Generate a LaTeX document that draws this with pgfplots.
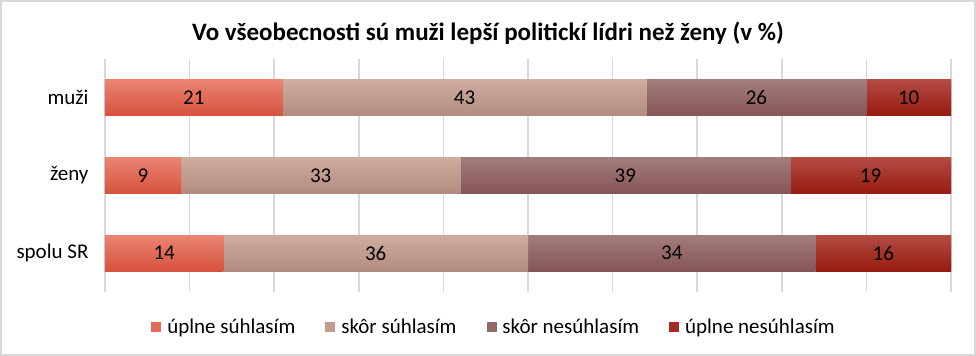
\documentclass[border=0pt]{standalone}
\usepackage{pgfplots}
\usepackage{pgfplotstable}
\pgfplotsset{compat=1.18}
\usepackage{fontspec}
\setmainfont{Carlito}
\definecolor{gridgray}{HTML}{D9D9D9}
\definecolor{aT}{HTML}{EA8473}
\definecolor{aM}{HTML}{E26A56}
\definecolor{aB}{HTML}{D6523D}
\definecolor{bT}{HTML}{CEAC9F}
\definecolor{bM}{HTML}{C19C8F}
\definecolor{bB}{HTML}{B28B7F}
\definecolor{cT}{HTML}{A27C7C}
\definecolor{cM}{HTML}{946868}
\definecolor{cB}{HTML}{865557}
\definecolor{dT}{HTML}{B24B42}
\definecolor{dM}{HTML}{A32D22}
\definecolor{dB}{HTML}{981B10}

\pgfplotstableread{
c v
0 21
1 9
2 14
}\seriesA
\pgfplotstableread{
c v
0 43
1 33
2 36
}\seriesB
\pgfplotstableread{
c v
0 26
1 39
2 34
}\seriesC
\pgfplotstableread{
c v
0 10
1 19
2 16
}\seriesD

\begin{document}
\begin{tikzpicture}
\path[use as bounding box] (-105bp,-64bp) rectangle (871bp,292bp);
\draw[color=gridgray, line width=2bp] (-104bp,-63bp) rectangle (870bp,291bp);
\begin{axis}[
  at={(0,0)}, anchor=south west,
  scale only axis, width=846bp, height=233bp,
  xbar stacked, bar width=36bp,
  xmin=0, xmax=100, ymin=-0.5, ymax=2.5, y dir=reverse,
  ytick={0,1,2}, yticklabels={muži,ženy,spolu SR},
  xtick={0,10,...,100}, xticklabels={},
  xmajorgrids, grid style={color=gridgray, line width=1.5bp},
  axis line style={draw=none}, tick style={draw=none},
  yticklabel style={font=\fontsize{21bp}{25bp}\selectfont, xshift=-13bp},
  point meta=explicit,
  visualization depends on={rawx \as \rx},
  nodes near coords={\pgfmathprintnumber[assume math mode=true]{\rx}},
  every node near coord/.append style={anchor=center, inner sep=0pt,
     minimum width={\rx*8.46bp}, minimum height=36bp,
     font=\fontsize{21bp}{25bp}\selectfont, text=black},
  legend columns=4,
  legend style={at={(0.4598,-0.150)}, anchor=center, draw=none, fill=none,
    font=\fontsize{21bp}{25bp}\selectfont,
    /tikz/every even column/.append style={column sep=28bp}},
  leg/.style={legend image code/.code={\fill[##1] (0bp,-5bp) rectangle (10bp,5bp); \path (14bp,0bp);}},
]
\addplot[draw=none, fill=aM, leg, every node near coord/.append style={top color=aT, bottom color=aB}] table[x=v, y=c, meta=v] {\seriesA};
\addlegendentry{úplne súhlasím}
\addplot[draw=none, fill=bM, leg, every node near coord/.append style={top color=bT, bottom color=bB}] table[x=v, y=c, meta=v] {\seriesB};
\addlegendentry{skôr súhlasím}
\addplot[draw=none, fill=cM, leg, every node near coord/.append style={top color=cT, bottom color=cB}] table[x=v, y=c, meta=v] {\seriesC};
\addlegendentry{skôr nesúhlasím}
\addplot[draw=none, fill=dM, leg, every node near coord/.append style={top color=dT, bottom color=dB}] table[x=v, y=c, meta=v] {\seriesD};
\addlegendentry{úplne nesúhlasím}
\end{axis}
\node[font=\bfseries\fontsize{25bp}{29bp}\selectfont, text=black] at (383bp,259bp) {Vo všeobecnosti sú muži lepší politickí lídri než ženy (v \%)};
\end{tikzpicture}
\end{document}
